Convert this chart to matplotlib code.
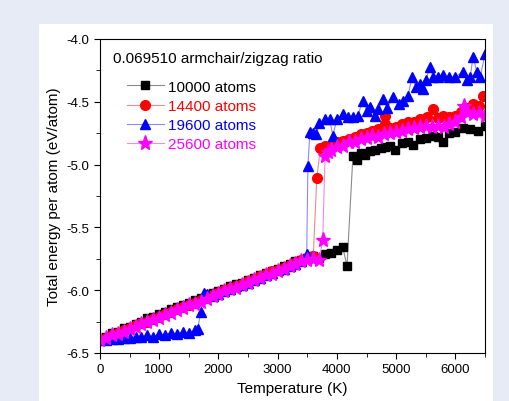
import matplotlib
matplotlib.use("Agg")
import matplotlib.pyplot as plt
from matplotlib.patches import Rectangle
from matplotlib.ticker import MultipleLocator

plt.rcParams['font.family'] = ['Liberation Sans', 'DejaVu Sans']

# 10000 atoms (black squares)
t_10000 = [0, 100, 200, 300, 400, 500, 600, 700, 800, 900, 1000, 1100, 1200, 1300, 1400,
           1500, 1600, 1700, 1800, 1900, 2000, 2100, 2200, 2300, 2400, 2500, 2600, 2700,
           2800, 2900, 3000, 3100, 3200, 3300, 3400, 3500, 3600, 3700, 3800, 3900, 4000,
           4100, 4170, 4270, 4340, 4400, 4475, 4560, 4650, 4750, 4810, 4900, 4980, 5100,
           5200, 5285, 5400, 5500, 5620, 5700, 5790, 5900, 6000, 6130, 6250, 6380, 6500]
e_10000 = [-6.39, -6.37, -6.34, -6.33, -6.30, -6.29, -6.27, -6.25, -6.22, -6.21, -6.19,
           -6.17, -6.15, -6.13, -6.12, -6.10, -6.08, -6.06, -6.04, -6.02, -6.01, -5.99,
           -5.97, -5.95, -5.94, -5.92, -5.90, -5.88, -5.86, -5.85, -5.83, -5.81, -5.79,
           -5.77, -5.76, -5.74, -5.73, -5.74, -5.71, -5.70, -5.68, -5.66, -5.81, -4.93,
           -4.96, -4.91, -4.92, -4.89, -4.88, -4.87, -4.86, -4.85, -4.88, -4.83, -4.82,
           -4.84, -4.80, -4.79, -4.77, -4.78, -4.82, -4.75, -4.74, -4.71, -4.72, -4.73,
           -4.69]

# 14400 atoms (red circles)
t_14400 = [0, 100, 200, 300, 400, 500, 600, 700, 800, 900, 1000, 1100, 1200, 1300, 1400,
           1500, 1600, 1700, 1800, 1900, 2000, 2100, 2200, 2300, 2400, 2500, 2600, 2700,
           2800, 2900, 3000, 3100, 3200, 3300, 3400, 3500, 3600, 3660, 3720, 3800, 3900,
           4000, 4100, 4200, 4300, 4400, 4500, 4600, 4700, 4810, 4820, 4900, 5000, 5100,
           5200, 5300, 5400, 5520, 5620, 5700, 5790, 5900, 6000, 6100, 6200, 6300, 6400,
           6470]
e_14400 = [-6.40, -6.38, -6.36, -6.34, -6.32, -6.30, -6.28, -6.26, -6.25, -6.23, -6.21,
           -6.19, -6.17, -6.15, -6.13, -6.12, -6.10, -6.08, -6.06, -6.04, -6.02, -6.00,
           -5.98, -5.97, -5.95, -5.93, -5.91, -5.89, -5.87, -5.85, -5.84, -5.82, -5.80,
           -5.78, -5.76, -5.74, -5.73, -5.11, -4.87, -4.85, -4.84, -4.82, -4.81, -4.80,
           -4.78, -4.76, -4.75, -4.73, -4.72, -4.61, -4.68, -4.71, -4.70, -4.68, -4.66,
           -4.66, -4.64, -4.62, -4.56, -4.63, -4.61, -4.62, -4.61, -4.58, -4.55, -4.52,
           -4.53, -4.45]

# 19600 atoms (blue triangles)
t_19600 = [0, 100, 200, 300, 400, 500, 600, 700, 800, 900, 1000, 1100, 1200, 1300, 1400,
           1500, 1600, 1650, 1700, 1750, 1800, 1900, 2000, 2100, 2200, 2300, 2400, 2500,
           2600, 2700, 2800, 2900, 3000, 3100, 3200, 3300, 3400, 3490, 3510, 3545, 3600,
           3650, 3700, 3800, 3880, 3930, 4000, 4100, 4180, 4270, 4350, 4440, 4500, 4560,
           4640, 4700, 4780, 4850, 4950, 5050, 5120, 5200, 5270, 5330, 5400, 5450, 5500,
           5570, 5620, 5700, 5790, 5900, 6000, 6130, 6200, 6250, 6300, 6360, 6420, 6500]
e_19600 = [-6.40, -6.40, -6.39, -6.39, -6.38, -6.38, -6.37, -6.37, -6.36, -6.37, -6.35,
           -6.36, -6.34, -6.35, -6.33, -6.34, -6.32, -6.31, -6.17, -6.02, -6.03, -6.05,
           -6.03, -6.01, -5.99, -5.97, -5.96, -5.94, -5.92, -5.90, -5.88, -5.86, -5.84,
           -5.83, -5.81, -5.79, -5.77, -5.71, -5.01, -4.74, -4.75, -4.76, -4.67, -4.64,
           -4.64, -4.77, -4.64, -4.60, -4.62, -4.62, -4.61, -4.49, -4.57, -4.54, -4.61,
           -4.56, -4.48, -4.55, -4.46, -4.52, -4.49, -4.45, -4.30, -4.38, -4.36, -4.40,
           -4.33, -4.22, -4.30, -4.30, -4.29, -4.30, -4.30, -4.26, -4.33, -4.30, -4.14,
           -4.26, -4.30, -4.12]

# 25600 atoms (magenta stars)
t_25600 = [0, 100, 200, 300, 400, 500, 600, 700, 800, 900, 1000, 1100, 1200, 1300, 1400,
           1500, 1600, 1700, 1800, 1900, 2000, 2100, 2200, 2300, 2400, 2500, 2600, 2700,
           2800, 2900, 3000, 3100, 3200, 3300, 3400, 3500, 3600, 3700, 3760, 3800, 3850,
           3900, 4000, 4100, 4200, 4300, 4400, 4500, 4600, 4700, 4800, 4900, 5000, 5100,
           5200, 5300, 5400, 5500, 5600, 5700, 5800, 5900, 6000, 6100, 6150, 6200, 6300,
           6400, 6500]
e_25600 = [-6.40, -6.38, -6.36, -6.35, -6.33, -6.31, -6.29, -6.27, -6.25, -6.24, -6.22,
           -6.20, -6.18, -6.16, -6.14, -6.12, -6.11, -6.09, -6.07, -6.05, -6.03, -6.01,
           -5.99, -5.98, -5.96, -5.94, -5.92, -5.90, -5.88, -5.87, -5.85, -5.83, -5.81,
           -5.79, -5.77, -5.76, -5.75, -5.76, -5.60, -4.93, -4.90, -4.88, -4.86, -4.85,
           -4.82, -4.82, -4.80, -4.79, -4.77, -4.78, -4.76, -4.75, -4.74, -4.73, -4.72,
           -4.71, -4.70, -4.69, -4.70, -4.69, -4.70, -4.68, -4.66, -4.62, -4.53, -4.58,
           -4.60, -4.59, -4.61]

labels = ['10000 atoms', '14400 atoms', '19600 atoms', '25600 atoms']

fig = plt.figure(figsize=(5.09, 4.02), dpi=100)
fig.patch.set_facecolor('#e6ebf6')
fig.patches.append(Rectangle((39 / 509, 0), 454 / 509, 377 / 402, transform=fig.transFigure,
                             facecolor='white', edgecolor='none', zorder=-10))
ax = fig.add_axes([100 / 509, 48 / 402, 385 / 509, 314 / 402])
ax.set_zorder(1)

ax.plot(t_10000, e_10000, color='#8a8a8a', lw=0.8, marker='s', ms=6,
        mfc='black', mec='black', label=labels[0])
ax.plot(t_14400, e_14400, color='#f08a8a', lw=0.8, marker='o', ms=7,
        mfc='red', mec='red', label=labels[1])
ax.plot(t_19600, e_19600, color='#8a8aff', lw=0.8, marker='^', ms=7.5,
        mfc='blue', mec='blue', label=labels[2])
ax.plot(t_25600, e_25600, color='#f08af0', lw=0.8, marker='*', ms=11,
        mfc='magenta', mec='magenta', label=labels[3])

ax.set_xlim(0, 6500)
ax.set_ylim(-6.5, -4.0)
ax.xaxis.set_major_locator(MultipleLocator(1000))
ax.xaxis.set_minor_locator(MultipleLocator(500))
ax.yaxis.set_major_locator(MultipleLocator(0.5))
ax.yaxis.set_minor_locator(MultipleLocator(0.25))
ax.tick_params(which='both', direction='out', top=False, right=False, labelsize=9.5)
ax.tick_params(which='major', length=4)
ax.tick_params(which='minor', length=3)
ax.yaxis.set_major_formatter(matplotlib.ticker.FormatStrFormatter('%.1f'))
ax.set_xlabel('Temperature (K)', fontsize=11)
ax.set_ylabel('Total energy per atom (eV/atom)', fontsize=11)

ax.text(0.035, 0.94, '0.069510 armchair/zigzag ratio', transform=ax.transAxes,
        fontsize=11, va='center', ha='left')

leg = ax.legend(loc='upper left', bbox_to_anchor=(0.07, 0.87), frameon=False,
                fontsize=11, handlelength=2.4, handletextpad=0.3, labelspacing=0.33,
                borderpad=0, borderaxespad=0)
for txt, c in zip(leg.get_texts(), ['black', 'red', 'blue', 'magenta']):
    txt.set_color(c)

fig.savefig('out.png', dpi=100, facecolor=fig.get_facecolor())
